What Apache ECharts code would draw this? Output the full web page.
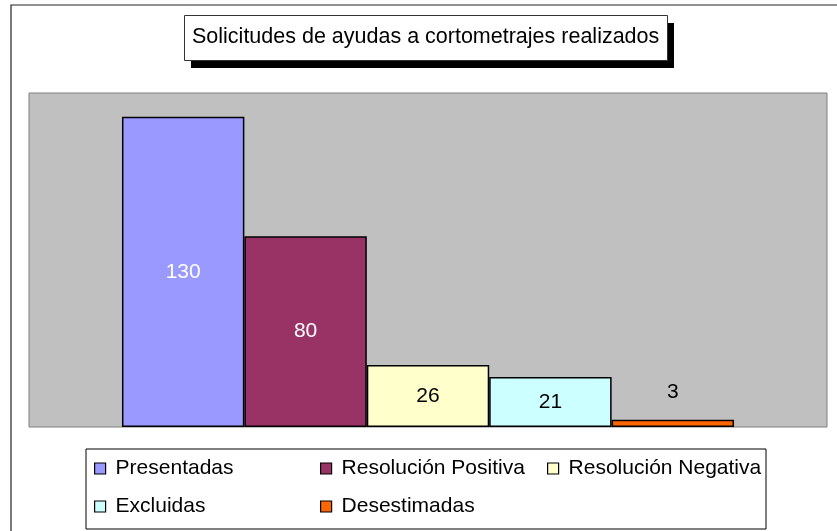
<!DOCTYPE html>
<html>
<head>
<meta charset="utf-8">
<script src="https://cdn.jsdelivr.net/npm/echarts@6/dist/echarts.min.js"></script>
<style>
html,body{margin:0;padding:0;background:#fff;}
#c{width:837px;height:531px;}
</style>
</head>
<body>
<div id="c"></div>
<script>
const titleText = 'Solicitudes de ayudas a cortometrajes realizados';
const categories = [''];
const seriesNames = ['Presentadas', 'Resolución Positiva', 'Resolución Negativa', 'Excluidas', 'Desestimadas'];
const seriesValues = [130, 80, 26, 21, 3];
const seriesColors = ['#9999FF', '#993366', '#FFFFCC', '#CCFFFF', '#FF6600'];
const labelColors = ['#FFFFFF', '#FFFFFF', '#000000', '#000000', '#000000'];
const labelPositions = ['inside', 'inside', 'inside', 'inside', 'top'];
const legendColumns = [
  ['Presentadas', 'Excluidas'],
  ['Resolución Positiva', 'Desestimadas'],
  ['Resolución Negativa']
];
const legendLefts = [94, 320, 547];

const FONT = "'Liberation Sans', Arial, sans-serif";
const chart = echarts.init(document.getElementById('c'), null, {renderer: 'canvas'});

const series = seriesNames.map((name, i) => ({
  name: name,
  type: 'bar',
  data: [seriesValues[i]],
  barGap: '0%',
  barCategoryGap: '23.3%',
  itemStyle: {color: seriesColors[i], borderColor: '#000', borderWidth: 1.5},
  label: {
    show: true,
    position: labelPositions[i],
    distance: 17,
    color: labelColors[i],
    fontFamily: FONT,
    fontSize: 21
  },
  emphasis: {disabled: true},
  silent: true
}));

const legends = legendColumns.map((cols, i) => ({
  data: cols,
  orient: 'vertical',
  left: legendLefts[i],
  top: 458,
  padding: 0,
  itemGap: 17,
  itemWidth: 11,
  itemHeight: 11,
  icon: 'rect',
  itemStyle: {borderColor: '#000', borderWidth: 1.2},
  textStyle: {fontFamily: FONT, fontSize: 21, color: '#000', lineHeight: 21, padding: [0, 0, 0, 5]},
  selectedMode: false
}));

chart.setOption({
  animation: false,
  backgroundColor: '#fff',
  title: {
    text: titleText,
    left: 192,
    top: 26,
    padding: 0,
    textStyle: {fontFamily: FONT, fontSize: 21.5, fontWeight: 'normal', color: '#000', lineHeight: 22}
  },
  legend: legends,
  grid: {
    left: 29, right: 10, top: 93, bottom: 104,
    show: true,
    backgroundColor: '#C0C0C0',
    borderColor: '#808080',
    borderWidth: 1
  },
  xAxis: {
    type: 'category',
    data: categories,
    axisLine: {show: false},
    axisTick: {show: false},
    axisLabel: {show: false}
  },
  yAxis: {
    type: 'value',
    min: 0,
    max: 140,
    show: false,
    splitLine: {show: false}
  },
  graphic: [
    {type: 'rect', shape: {x: 11, y: 5, width: 900, height: 600}, style: {fill: 'none', stroke: '#222', lineWidth: 1.2}, silent: true, z: -10},
    {type: 'rect', shape: {x: 191, y: 23, width: 483, height: 45}, style: {fill: '#000'}, silent: true, z: -5},
    {type: 'rect', shape: {x: 184.5, y: 15.5, width: 483, height: 45}, style: {fill: '#fff', stroke: '#333', lineWidth: 1}, silent: true, z: -4},
    {type: 'rect', shape: {x: 86, y: 449, width: 680, height: 80}, style: {fill: 'none', stroke: '#000', lineWidth: 1}, silent: true}
  ],
  series: series
});
</script>
</body>
</html>
